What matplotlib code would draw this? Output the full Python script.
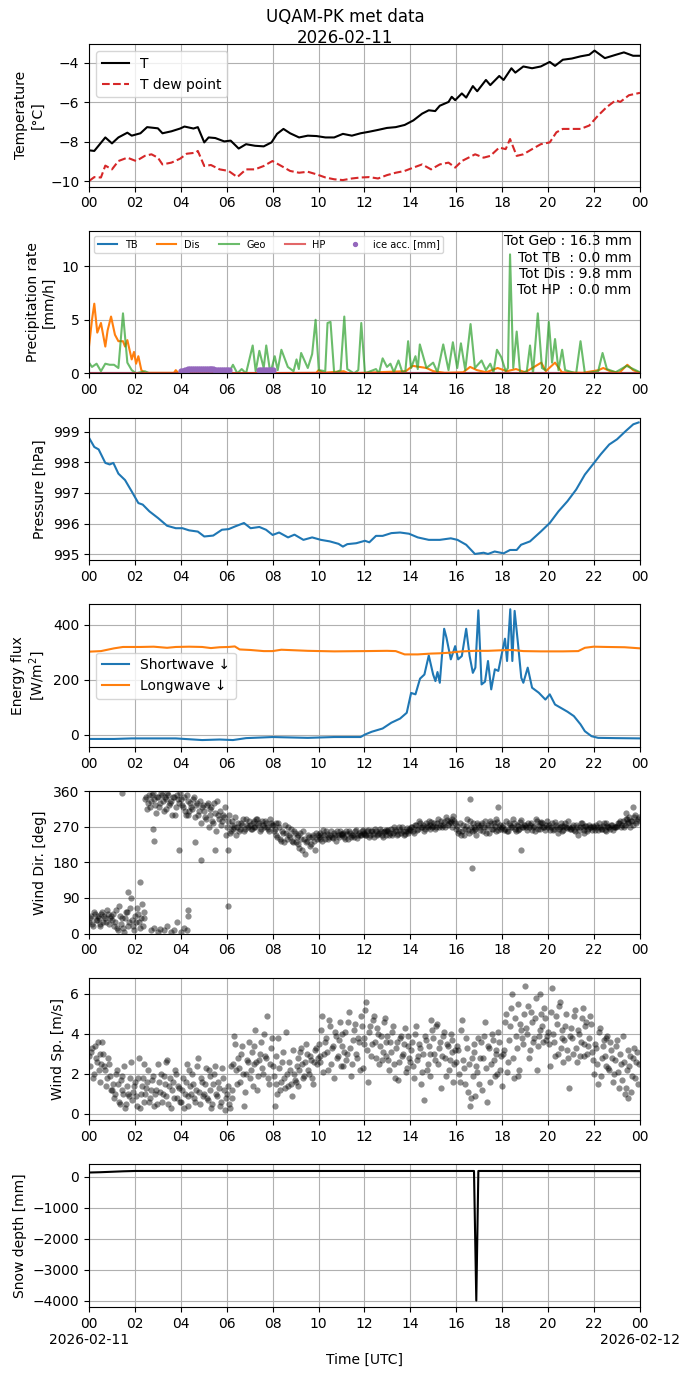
import matplotlib
matplotlib.use("Agg")
import matplotlib.pyplot as plt
import numpy as np

# ---- temperature (hours UTC, degC) ----
t_temp = [0.00, 0.23, 0.71, 1.00, 1.28, 1.67, 1.86, 2.24, 2.53, 3.00, 3.20, 3.59, 3.97,
          4.16, 4.55, 4.74, 5.02, 5.21, 5.50, 5.89, 6.17, 6.52, 6.84, 7.23, 7.61, 7.95,
          8.19, 8.47, 8.76, 9.15, 9.53, 9.91, 10.30, 10.68, 11.06, 11.45, 11.83, 12.21,
          12.59, 12.98, 13.36, 13.75, 14.13, 14.51, 14.80, 15.08, 15.28, 15.66, 15.80,
          15.95, 16.24, 16.43, 16.72, 16.91, 17.29, 17.48, 17.87, 18.06, 18.40, 18.57,
          18.92, 19.30, 19.68, 20.07, 20.30, 20.64, 21.03, 21.41, 21.79, 22.02, 22.47,
          22.95, 23.30, 23.70, 24.00]
temp = [-8.43, -8.46, -7.78, -8.08, -7.78, -7.54, -7.69, -7.57, -7.26, -7.32, -7.57, -7.47,
        -7.33, -7.23, -7.33, -7.26, -8.03, -7.78, -7.81, -7.98, -7.94, -8.34, -8.12, -8.20,
        -8.23, -8.03, -7.60, -7.35, -7.57, -7.78, -7.69, -7.71, -7.78, -7.78, -7.60, -7.69,
        -7.57, -7.49, -7.40, -7.30, -7.26, -7.15, -6.92, -6.58, -6.41, -6.45, -6.18, -5.99,
        -5.73, -5.90, -5.56, -5.77, -5.19, -5.45, -4.88, -5.14, -4.68, -4.88, -4.29, -4.51,
        -4.20, -4.29, -4.20, -3.97, -4.17, -3.86, -3.80, -3.69, -3.61, -3.40, -3.78, -3.61,
        -3.49, -3.66, -3.66]
t_dew = [0.00, 0.23, 0.52, 0.71, 1.00, 1.28, 1.67, 2.05, 2.43, 2.72, 3.00, 3.20, 3.59,
         3.97, 4.26, 4.64, 4.74, 5.02, 5.31, 5.69, 6.08, 6.46, 6.84, 7.23, 7.61, 7.99,
         8.38, 8.76, 9.15, 9.53, 9.91, 10.30, 10.68, 11.06, 11.45, 11.83, 12.21, 12.59,
         12.98, 13.36, 13.75, 14.13, 14.51, 14.90, 15.28, 15.66, 15.95, 16.24, 16.53,
         16.82, 17.19, 17.48, 17.87, 18.15, 18.34, 18.63, 18.92, 19.30, 19.68, 20.07,
         20.36, 20.64, 21.03, 21.41, 21.79, 22.18, 22.56, 22.95, 23.14, 23.52, 24.00]
dew = [-9.98, -9.78, -9.80, -9.20, -9.39, -8.97, -8.80, -8.97, -8.71, -8.63, -8.80, -9.14,
       -9.05, -8.85, -8.60, -8.55, -8.46, -9.22, -9.17, -9.39, -9.47, -9.78, -9.39, -9.39,
       -9.22, -8.97, -9.22, -9.47, -9.56, -9.51, -9.64, -9.80, -9.89, -9.93, -9.85, -9.80,
       -9.78, -9.85, -9.68, -9.56, -9.47, -9.30, -9.14, -9.39, -9.14, -9.05, -9.30, -8.97,
       -8.80, -8.63, -8.80, -8.71, -8.29, -8.37, -7.86, -8.71, -8.63, -8.37, -8.12, -8.03,
       -7.52, -7.35, -7.35, -7.35, -7.18, -6.67, -6.24, -5.90, -5.99, -5.65, -5.53]

# ---- precipitation (mm/h) ----
t_geo = [0.00, 0.13, 0.33, 0.52, 0.71, 0.90, 1.09, 1.28, 1.48, 1.67, 1.86, 2.05, 2.43, 2.63,
         6.08, 6.27, 6.46, 6.65, 6.84, 7.13, 7.26, 7.42, 7.61, 7.72, 7.90, 8.09, 8.22, 8.38,
         8.66, 8.91, 9.04, 9.14, 9.24, 9.53, 9.72, 9.87, 10.01, 10.29, 10.39, 10.52, 10.68,
         10.96, 11.12, 11.25, 11.54, 11.73, 11.86, 12.02, 12.50, 12.63, 12.79, 12.98, 13.13,
         13.28, 13.48, 13.65, 13.78, 13.90, 14.03, 14.22, 14.32, 14.41, 14.70, 14.99, 15.18,
         15.43, 15.66, 15.85, 16.04, 16.20, 16.39, 16.62, 16.81, 17.10, 17.29, 17.48, 17.62,
         17.77, 17.96, 18.15, 18.25, 18.34, 18.48, 18.63, 18.78, 19.07, 19.21, 19.34, 19.55,
         19.73, 19.88, 20.03, 20.17, 20.30, 20.45, 20.61, 20.74, 21.22, 21.41, 21.60, 22.18,
         22.37, 22.56, 22.94, 23.42, 23.71, 24.00]
geo = [1.0, 0.6, 0.9, 0.2, 0.9, 0.8, 0.8, 0.5, 5.6, 1.0, 0.3, 0.0, 0.2, 0.0,
       0.0, 0.8, 0.0, 0.4, 0.0, 2.6, 0.2, 2.1, 0.5, 2.6, 0.0, 1.6, 0.3, 2.2,
       0.6, 0.2, 1.3, 0.4, 1.9, 0.5, 1.8, 5.0, 0.3, 0.2, 4.7, 4.8, 0.0,
       0.3, 5.3, 0.4, 0.0, 0.3, 4.7, 0.0, 0.4, 0.0, 1.4, 0.6, 0.9,
       0.1, 1.2, 0.1, 0.2, 3.0, 0.5, 1.6, 0.4, 2.7, 0.5, 1.0, 0.1,
       2.7, 0.3, 2.9, 0.5, 2.8, 0.3, 4.6, 0.5, 1.2, 0.3, 0.9, 0.1,
       2.2, 1.5, 0.2, 0.5, 11.1, 0.5, 3.9, 0.0, 0.2, 2.6, 0.0, 5.6,
       0.5, 0.3, 4.8, 1.0, 3.2, 0.3, 2.2, 0.3, 0.0, 3.0, 0.0, 0.2,
       1.9, 0.4, 0.1, 0.7, 0.4, 0.1]
t_dis = [0.00, 0.13, 0.23, 0.36, 0.52, 0.71, 0.81, 0.96, 1.13, 1.28, 1.48, 1.57, 1.67, 1.86,
         1.96, 2.05, 2.15, 2.28, 2.43, 3.70, 3.78, 3.90, 6.00, 9.90, 10.00, 10.20, 11.10,
         11.30, 13.80, 14.10, 14.40, 14.70, 15.00, 15.50, 16.30, 16.60, 16.90, 17.30, 17.80,
         18.20, 18.60, 19.00, 19.70, 19.90, 20.30, 20.60, 21.50, 22.20, 22.40, 22.70, 23.10,
         23.45, 23.70, 24.00]
dis = [2.5, 5.0, 6.5, 3.8, 4.7, 2.5, 4.0, 5.3, 3.6, 3.0, 3.0, 2.5, 3.1, 1.3,
       2.0, 0.9, 1.6, 0.3, 0.05, 0.05, 0.3, 0.0, 0.0, 0.05, 0.3, 0.05, 0.2,
       0.0, 0.2, 0.7, 0.6, 0.5, 0.2, 0.05, 0.1, 0.6, 0.3, 0.1, 0.5,
       0.2, 0.4, 0.1, 1.0, 0.2, 1.0, 0.1, 0.05, 0.3, 0.5, 0.2, 0.05,
       0.8, 0.3, 0.05]
t_zero = [0.0, 24.0]
tb = [0.0, 0.0]
hp = [0.0, 0.0]
t_ice = [4.00, 4.08, 4.17, 4.25, 4.33, 4.42, 4.50, 4.58, 4.67, 4.75, 4.83, 4.92, 5.00,
         5.08, 5.17, 5.25, 5.33, 5.42, 5.50, 5.58, 5.67, 5.75, 5.83, 5.92, 6.00, 6.08,
         7.42, 7.50, 7.58, 7.67, 7.75, 7.83, 7.92, 8.00]
ice = [0.20, 0.25, 0.30, 0.35, 0.38, 0.40, 0.40, 0.40, 0.40, 0.40, 0.40, 0.40, 0.40,
       0.40, 0.40, 0.40, 0.40, 0.38, 0.35, 0.35, 0.35, 0.33, 0.33, 0.30, 0.30, 0.30,
       0.30, 0.30, 0.30, 0.30, 0.30, 0.30, 0.30, 0.30]
tot_text = "Tot Geo : 16.3 mm\nTot TB  : 0.0 mm\nTot Dis : 9.8 mm\nTot HP  : 0.0 mm"

# ---- pressure (hPa) ----
t_pres = [0.00, 0.23, 0.42, 0.71, 0.90, 1.06, 1.28, 1.57, 1.86, 2.15, 2.34, 2.63, 3.01,
          3.40, 3.78, 4.07, 4.36, 4.74, 5.02, 5.41, 5.79, 6.08, 6.37, 6.75, 7.04, 7.42,
          7.71, 8.00, 8.28, 8.67, 8.95, 9.34, 9.72, 10.10, 10.49, 10.87, 11.06, 11.25,
          11.64, 12.02, 12.21, 12.50, 12.79, 13.17, 13.55, 13.94, 14.32, 14.80, 15.28,
          15.76, 16.05, 16.43, 16.81, 17.19, 17.38, 17.67, 18.06, 18.34, 18.63, 18.82,
          19.21, 19.68, 20.07, 20.45, 20.84, 21.22, 21.60, 22.00, 22.29, 22.66, 23.00,
          23.38, 23.71, 23.94]
pres = [998.80, 998.50, 998.42, 997.98, 997.93, 997.98, 997.63, 997.42, 997.05, 996.67,
        996.62, 996.40, 996.18, 995.93, 995.85, 995.85, 995.78, 995.74, 995.58, 995.61,
        995.80, 995.82, 995.91, 996.02, 995.85, 995.89, 995.80, 995.63, 995.71, 995.55,
        995.64, 995.47, 995.55, 995.47, 995.42, 995.34, 995.25, 995.33, 995.36, 995.44,
        995.39, 995.60, 995.60, 995.69, 995.71, 995.67, 995.55, 995.47, 995.47, 995.52,
        995.47, 995.31, 995.01, 995.05, 995.01, 995.09, 995.03, 995.14, 995.14, 995.31,
        995.42, 995.74, 996.02, 996.40, 996.73, 997.11, 997.60, 997.98, 998.26, 998.58,
        998.75, 999.02, 999.24, 999.30]

# ---- radiation (W/m2) ----
t_lw = [0.00, 0.52, 1.09, 1.48, 2.24, 2.82, 3.40, 3.78, 4.36, 4.93, 5.31, 5.69, 6.08, 6.35,
        6.56, 7.04, 7.61, 7.99, 8.38, 9.53, 10.68, 12.02, 12.98, 13.36, 13.75, 14.32,
        14.90, 15.28, 15.66, 16.24, 16.81, 17.38, 17.96, 18.44, 18.92, 19.68, 20.64,
        21.31, 21.60, 21.98, 22.56, 23.33, 24.00]
lw = [302, 304, 314, 319, 319, 320, 316, 319, 320, 319, 315, 318, 319, 321,
      310, 308, 304, 304, 309, 305, 303, 304, 305, 304, 292, 292,
      295, 296, 298, 303, 305, 305, 307, 308, 304, 303, 303,
      304, 316, 320, 319, 318, 314]
t_sw = [0.00, 1.09, 1.86, 3.78, 4.93, 5.69, 6.27, 6.84, 8.00, 9.53, 10.68, 11.83, 12.02,
        12.31, 12.79, 13.17, 13.55, 13.84, 14.03, 14.22, 14.42, 14.61, 14.80, 14.99,
        15.09, 15.18, 15.28, 15.47, 15.57, 15.76, 15.95, 16.08, 16.24, 16.43, 16.58,
        16.72, 16.83, 16.96, 17.10, 17.25, 17.38, 17.52, 17.68, 17.83, 17.96, 18.12,
        18.21, 18.35, 18.44, 18.54, 18.69, 18.83, 18.92, 19.11, 19.30, 19.59, 19.88,
        20.07, 20.30, 20.55, 20.84, 21.12, 21.41, 21.60, 21.89, 22.18, 22.94, 24.00]
sw = [-15, -15, -13, -13, -19, -17, -19, -12, -8, -11, -8, -8, 1,
      11, 23, 44, 59, 80, 152, 147, 204, 219, 288, 219,
      195, 228, 189, 385, 353, 274, 322, 274, 286, 385, 286,
      225, 244, 452, 183, 193, 268, 165, 238, 232, 286, 349,
      268, 456, 268, 450, 328, 207, 189, 244, 171, 153, 128,
      147, 110, 98, 84, 68, 38, 13, -5, -11, -12, -13]

# ---- wind direction (deg), 5-min samples, two interleaved sets ----
wdir = [30, 45, 20, 50, 35, 40, 25, 55, 45, 30, 50, 40,
        35, 20, 60, 10, 45, 355, 15, 40, 55, 30, 90, 20,
        45, 65, 30, 40, 20, 55, 345, 330, 320, 350, 340, 305,
        345, 330, 350, 310, 340, 355, 325, 335, 345, 300, 350, 330,
        340, 320, 310, 350, 300, 330, 315, 345, 325, 300, 335, 320,
        310, 290, 330, 300, 320, 280, 305, 335, 290, 275, 300, 320,
        270, 300, 260, 285, 270, 250, 280, 265, 275, 260, 290, 270,
        275, 265, 285, 270, 290, 280, 265, 275, 285, 270, 260, 280,
        275, 265, 250, 280, 240, 260, 230, 255, 270, 245, 235, 260,
        230, 250, 215, 240, 260, 200, 235, 245, 225, 250, 210, 240,
        245, 255, 235, 250, 260, 240, 250, 245, 255, 235, 250, 258,
        248, 255, 240, 252, 260, 245, 250, 258, 242, 255, 250, 262,
        255, 248, 262, 250, 258, 245, 260, 252, 265, 250, 256, 262,
        258, 250, 265, 255, 262, 248, 268, 255, 260, 252, 266, 258,
        262, 270, 255, 275, 265, 280, 268, 260, 278, 270, 265, 282,
        272, 265, 280, 270, 285, 275, 268, 288, 278, 282, 290, 285,
        265, 255, 280, 260, 250, 272, 262, 285, 258, 270, 265, 280,
        268, 275, 260, 285, 270, 255, 278, 265, 272, 290, 262, 275,
        270, 262, 285, 258, 275, 268, 280, 260, 272, 265, 288, 270,
        275, 262, 268, 280, 270, 260, 285, 272, 265, 278, 268, 275,
        270, 262, 278, 265, 275, 255, 268, 272, 262, 280, 266, 270,
        265, 275, 258, 270, 262, 278, 268, 255, 272, 265, 270, 262,
        268, 275, 262, 270, 265, 278, 260, 272, 268, 275, 262, 270,
        272, 280, 268, 285, 275, 290, 278, 270, 285, 295, 280, 290]
wdir2 = [40, 25, 55, 35, 45, 20, 50, 30, 40, 60, 25, 45,
         50, 30, 15, 70, 25, 40, 5, 55, 20, 65, 35, 10,
         30, 50, 15, 75, 40, 340, 315, 350, 335, 355, 325, 345,
         320, 355, 335, 345, 315, 350, 330, 300, 345, 320, 340, 355,
         325, 345, 300, 335, 310, 320, 340, 295, 330, 310, 280, 325,
         295, 325, 270, 315, 285, 330, 260, 300, 310, 285, 295, 250,
         285, 255, 275, 265, 295, 270, 260, 280, 290, 265, 275, 285,
         265, 280, 270, 290, 275, 260, 285, 270, 280, 265, 290, 275,
         260, 280, 245, 270, 235, 255, 275, 240, 250, 265, 230, 255,
         245, 225, 255, 210, 240, 230, 250, 220, 245, 235, 255, 250,
         240, 250, 262, 238, 252, 245, 258, 242, 250, 260, 245, 252,
         252, 245, 258, 240, 255, 250, 245, 262, 250, 248, 258, 252,
         250, 260, 245, 258, 252, 265, 248, 255, 260, 245, 258, 250,
         262, 255, 248, 268, 258, 252, 262, 270, 250, 258, 255, 265,
         268, 258, 275, 262, 285, 270, 275, 265, 272, 285, 275, 270,
         280, 270, 290, 275, 268, 282, 295, 275, 285, 270, 298, 280,
         272, 260, 248, 275, 265, 290, 255, 268, 280, 262, 250, 275,
         262, 280, 270, 255, 275, 285, 265, 278, 260, 282, 270, 265,
         275, 265, 258, 280, 270, 290, 265, 275, 262, 282, 270, 275,
         268, 280, 275, 262, 272, 290, 265, 278, 282, 270, 262, 285,
         275, 268, 262, 282, 270, 265, 278, 260, 272, 268, 284, 265,
         270, 262, 275, 250, 268, 280, 262, 272, 258, 275, 268, 272,
         262, 270, 278, 265, 272, 262, 280, 268, 265, 275, 270, 268,
         278, 285, 275, 270, 290, 282, 295, 285, 275, 300, 285, 295]
t_wdir_low = [2.70, 2.85, 3.00, 3.10, 3.25, 3.40, 3.55, 3.70, 3.85, 4.00, 4.15, 4.25,
              4.30, 4.33, 2.80, 2.85, 3.90, 4.60, 4.90, 5.50, 6.05, 6.07, 16.60, 16.70,
              17.80, 18.80, 23.40, 23.70, 1.70, 2.22]
wdir_low = [10, 15, 5, 12, 8, 20, 3, 10, 30, 5, 15, 8,
            60, 45, 265, 235, 210, 230, 185, 210, 210, 70, 340, 165,
            320, 210, 305, 320, 105, 130]

# ---- wind speed (m/s), 5-min samples, two interleaved sets ----
wspd = [2.9, 3.1, 1.8, 3.4, 2.6, 2.2, 3.0, 3.6, 2.4, 1.4, 2.8, 1.9,
        1.2, 0.8, 2.0, 1.5, 0.5, 1.9, 1.0, 0.3, 1.4, 0.9, 2.6, 1.1,
        1.6, 0.4, 2.8, 1.0, 1.8, 0.6, 1.3, 2.2, 0.8, 1.7, 0.4, 1.2,
        2.5, 1.1, 0.6, 1.9, 0.9, 2.7, 1.4, 0.3, 1.6, 2.2, 0.8, 1.3,
        0.6, 1.8, 1.0, 2.5, 0.4, 1.4, 2.0, 0.8, 1.2, 2.8, 0.5, 1.6,
        1.0, 2.3, 0.7, 1.9, 0.3, 1.5, 2.4, 0.9, 1.3, 0.6, 1.8, 0.2,
        1.0, 0.5, 2.4, 1.2, 3.9, 2.2, 2.8, 1.6, 3.4, 0.4, 2.0, 2.6,
        1.8, 3.1, 2.5, 4.2, 1.2, 2.7, 3.6, 2.0, 2.9, 4.9, 1.5, 3.3,
        2.4, 0.4, 1.5, 3.8, 1.2, 2.6, 1.8, 4.1, 1.4, 2.2, 0.9, 2.0,
        1.6, 2.8, 2.2, 3.3, 1.8, 2.6, 3.0, 2.0, 2.7, 1.5, 3.2, 2.5,
        3.5, 2.6, 4.9, 3.0, 3.8, 2.2, 4.4, 3.3, 1.8, 3.9, 2.9, 4.6,
        3.4, 2.4, 4.1, 3.0, 5.1, 1.9, 3.7, 4.5, 2.8, 3.6, 4.9, 2.3,
        3.8, 5.6, 1.6, 4.4, 3.5, 4.9, 2.8, 4.0, 3.4, 2.7, 4.6, 3.6,
        3.9, 2.2, 3.1, 4.4, 1.8, 3.6, 2.6, 3.9, 3.0, 4.3, 2.3, 3.4,
        2.6, 3.6, 1.8, 4.4, 2.9, 3.3, 2.1, 0.7, 3.7, 2.5, 3.0, 4.7,
        3.8, 2.7, 4.5, 3.3, 1.3, 3.9, 2.8, 3.5, 2.2, 4.0, 3.1, 2.5,
        2.6, 3.2, 1.6, 4.7, 2.3, 3.8, 1.1, 0.4, 2.8, 3.5, 0.9, 2.1,
        1.5, 3.6, 2.8, 4.6, 0.6, 3.3, 2.5, 3.7, 1.9, 3.0, 4.1, 2.2,
        1.4, 3.2, 5.0, 2.6, 4.4, 6.0, 1.8, 3.9, 5.5, 2.2, 4.2, 3.5,
        6.4, 4.0, 2.8, 5.1, 3.6, 4.8, 2.2, 3.9, 6.0, 4.4, 5.3, 3.7,
        4.1, 2.4, 6.3, 3.6, 4.9, 3.0, 5.6, 3.8, 2.6, 4.4, 3.2, 1.3,
        4.3, 3.0, 5.2, 2.6, 4.0, 3.6, 5.3, 2.9, 4.6, 3.4, 4.9, 3.1,
        2.0, 3.3, 1.5, 4.3, 2.8, 3.7, 2.4, 3.9, 2.2, 3.2, 1.6, 2.7,
        3.7, 1.3, 2.5, 3.9, 1.0, 2.2, 0.8, 2.9, 1.9, 3.3, 2.6, 1.5]
wspd2 = [2.4, 3.3, 2.0, 2.8, 3.6, 1.6, 2.5, 3.0, 2.2, 1.8, 2.5, 1.2,
         1.5, 1.0, 2.2, 0.6, 1.7, 1.2, 2.4, 0.5, 1.0, 1.8, 0.7, 1.4,
         0.9, 1.8, 0.3, 1.4, 2.5, 1.0, 1.6, 0.6, 1.2, 1.9, 1.0, 0.5,
         1.6, 2.0, 1.0, 1.5, 2.6, 0.5, 1.8, 1.2, 0.8, 2.0, 1.4, 0.6,
         1.2, 0.3, 1.6, 0.9, 2.2, 1.0, 1.5, 0.6, 2.4, 1.1, 1.8, 0.9,
         1.5, 0.8, 2.2, 1.2, 0.5, 2.0, 1.0, 1.6, 0.4, 2.3, 1.2, 0.8,
         1.4, 0.3, 0.8, 2.5, 3.5, 1.5, 2.3, 3.0, 2.0, 1.1, 2.7, 3.6,
         2.2, 1.4, 3.4, 2.6, 1.9, 3.0, 2.3, 4.0, 2.8, 1.8, 2.5, 3.8,
         1.9, 2.9, 1.0, 2.3, 1.6, 3.1, 1.3, 2.0, 2.6, 1.5, 3.2, 1.7,
         2.4, 1.4, 3.1, 2.5, 1.9, 3.5, 2.2, 2.9, 1.8, 2.6, 3.3, 2.8,
         2.9, 4.2, 2.1, 3.6, 3.1, 4.7, 2.5, 3.4, 4.1, 2.8, 3.7, 2.4,
         4.0, 3.1, 2.7, 4.6, 3.3, 2.5, 4.2, 3.0, 3.8, 2.2, 4.4, 3.5,
         5.2, 3.2, 4.1, 2.9, 4.7, 3.6, 4.3, 2.5, 3.9, 3.1, 4.8, 2.9,
         2.7, 3.6, 4.1, 2.5, 3.3, 1.7, 3.8, 2.9, 3.5, 2.1, 3.9, 2.8,
         3.2, 2.4, 4.0, 2.7, 3.5, 1.5, 3.0, 3.9, 2.2, 3.4, 1.9, 4.2,
         3.0, 4.4, 2.5, 3.6, 2.9, 4.1, 1.9, 3.4, 2.7, 3.7, 1.6, 3.2,
         3.4, 2.0, 4.2, 2.7, 1.5, 3.3, 2.5, 0.8, 1.9, 3.1, 2.4, 3.8,
         2.8, 1.2, 3.9, 2.3, 3.4, 1.6, 4.0, 2.7, 3.2, 2.0, 3.6, 2.9,
         3.0, 4.6, 2.1, 3.7, 5.3, 2.8, 4.8, 3.3, 1.9, 4.5, 3.8, 5.0,
         4.3, 5.4, 3.2, 4.6, 3.8, 5.8, 3.4, 4.2, 5.0, 3.6, 4.8, 3.9,
         3.5, 5.1, 4.0, 2.9, 4.5, 5.4, 3.3, 4.2, 3.7, 5.0, 2.8, 3.9,
         3.8, 4.9, 3.3, 4.2, 2.9, 4.8, 3.5, 4.4, 3.0, 3.8, 4.5, 2.7,
         3.5, 2.5, 4.1, 1.9, 3.4, 2.9, 3.8, 2.3, 3.6, 2.8, 2.0, 3.4,
         2.1, 3.0, 1.7, 2.6, 1.3, 3.2, 2.4, 1.1, 2.8, 1.8, 3.1, 2.5]

# ---- snow depth (mm) ----
t_snow = [0.0, 0.5, 1.0, 1.5, 2.0, 8.0, 16.77, 16.87, 16.96, 24.0]
snow = [130, 140, 155, 170, 180, 180, 180, -4000, 180, 175]

tick_hours = list(range(0, 25, 2))
tick_labels = ['%02d' % (h % 24) for h in tick_hours]
day_labels = ['2026-02-11', '2026-02-12']

t5 = np.arange(288) / 12.0           # 5-min sample times
t5b = t5 + 2.5 / 60.0                # interleaved set

fig, axes = plt.subplots(7, 1, figsize=(6.9, 13.77), dpi=100)
fig.subplots_adjust(left=0.129, right=0.9275, top=0.968, bottom=0.0508, hspace=0.31)
fig.suptitle('UQAM-PK met data\n2026-02-11', y=0.994, fontsize=12)

ax = axes[0]
ax.plot(t_temp, temp, color='k', label='T')
ax.plot(t_dew, dew, color='tab:red', ls='--', label='T dew point')
ax.set_ylim(-10.26, -3.07)
ax.set_ylabel('Temperature\n[°C]')
ax.legend(loc='upper left')

ax = axes[1]
ax.plot(t_zero, tb, color='tab:blue', label='TB')
ax.plot(t_dis, dis, color='tab:orange', label='Dis')
ax.plot(t_geo, geo, color='tab:green', alpha=0.7, label='Geo')
ax.plot(t_zero, hp, color='tab:red', alpha=0.7, label='HP')
ax.plot(t_ice, ice, 'o', color='tab:purple', ms=3.5, label='ice acc. [mm]')
ax.set_ylim(0, 13.3)
ax.set_ylabel('Precipitation rate\n[mm/h]')
ax.legend(loc='upper left', ncol=5, fontsize=7, markerscale=0.8)
ax.text(0.985, 0.975, tot_text, transform=ax.transAxes, ha='right', va='top',
        multialignment='right', fontsize=10)

ax = axes[2]
ax.plot(t_pres, pres, color='tab:blue')
ax.set_ylim(994.81, 999.46)
ax.set_ylabel('Pressure [hPa]')

ax = axes[3]
ax.plot(t_sw, sw, color='tab:blue', label='Shortwave ↓')
ax.plot(t_lw, lw, color='tab:orange', label='Longwave ↓')
ax.set_ylim(-43.6, 474)
ax.set_ylabel('Energy flux\n[W/m$^2$]')
ax.legend(loc='center left')

dot = dict(ls='none', marker='o', color='k', alpha=0.45, ms=4.5, mew=0)

ax = axes[4]
ax.plot(t5, wdir, **dot)
ax.plot(t5b, wdir2, **dot)
ax.plot(t_wdir_low, wdir_low, **dot)
ax.set_ylim(0, 360)
ax.set_yticks([0, 90, 180, 270, 360])
ax.set_ylabel('Wind Dir. [deg]')

ax = axes[5]
ax.plot(t5, wspd, **dot)
ax.plot(t5b, wspd2, **dot)
ax.set_ylim(-0.32, 6.8)
ax.set_ylabel('Wind Sp. [m/s]')

ax = axes[6]
ax.plot(t_snow, snow, color='k')
ax.set_ylabel('Snow depth [mm]')
ax.set_xlabel('Time [UTC]', labelpad=16)
# day labels on a second line below the first and last hour ticks
for xf, lab in zip([0.0, 1.0], day_labels):
    ax.annotate(lab, xy=(xf, 0), xycoords='axes fraction', xytext=(0, -19),
                textcoords='offset points', ha='center', va='top', fontsize=10)

for ax in axes:
    ax.set_xlim(0, 24)
    ax.set_xticks(tick_hours)
    ax.set_xticklabels(tick_labels)
    ax.grid(True)

plt.savefig('out.png', dpi=100)
